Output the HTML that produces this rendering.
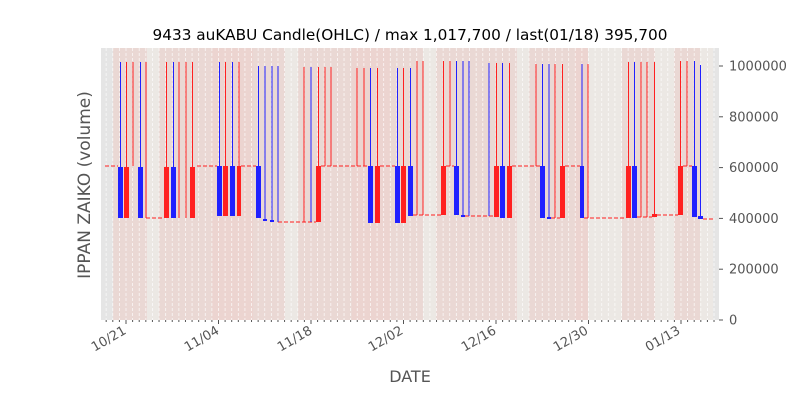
<!DOCTYPE html>
<html><head><meta charset="utf-8"><style>
html,body{margin:0;padding:0;background:#fff;}
svg{display:block;font-family:"DejaVu Sans","Liberation Sans",sans-serif;}
</style></head><body>
<svg id="s" width="800" height="400" viewBox="0 0 800 400" xmlns="http://www.w3.org/2000/svg">
<rect x="0" y="0" width="800" height="400" fill="#fff"/>
<rect x="101" y="48" width="618" height="272" fill="#e5e5e5"/>
<g id="bg"></g>
<g id="grid"></g>
<g id="data"></g>
<g id="axes" fill="#555" font-size="13"></g>
<text x="410" y="40" text-anchor="middle" font-size="15.3" fill="#000">9433 auKABU Candle(OHLC) / max 1,017,700 / last(01/18) 395,700</text>
<text x="410" y="382" text-anchor="middle" font-size="16" fill="#555">DATE</text>
<text transform="translate(90,185) rotate(-90)" text-anchor="middle" font-size="17" fill="#555">IPPAN ZAIKO (volume)</text>
</svg>
<script>
(function(){
const NS="http://www.w3.org/2000/svg";
function el(p,t,a,txt){const e=document.createElementNS(NS,t);for(const k in a)e.setAttribute(k,a[k]);if(txt!==undefined)e.textContent=txt;document.getElementById(p).appendChild(e);return e;}
const P='#ead8d4',P2='#ecd4d0',L='#ece8e4';
[[113,147,P],[147,159,L],[159,212,P],[212,253,P2],[253,285,P],[285,298,L],[298,352,P],[352,390,P2],[390,423,P],[423,436,L],[436,517,P],[517,529,L],[529,575,P],[575,588,P2],[588,622,L],[622,655,P],[655,674,L],[674,700,P],[700,713,L]].forEach(b=>el('bg','rect',{x:b[0],y:48,width:b[1]-b[0],height:272,fill:b[2]}));
for(let d=-3;d<=89;d++){const x=126+6.607*d;el('grid','line',{x1:x,x2:x,y1:48,y2:320,stroke:'#fff','stroke-dasharray':'3,2','stroke-width':0.8,opacity:0.8});
el('axes','line',{x1:x,x2:x,y1:320,y2:(d%14==0)?324:322,stroke:'#555','stroke-width':1});}
const R='#ff2020',B='#2020ff';
function topY(x){if(x<250)return 62;if(x<300)return 66;if(x<345)return 67;if(x<415)return 68;if(x<470)return 61;if(x<530)return 63;if(x<600)return 64;if(x<670)return 62;if(x<695)return 61;return 65;}
const dash=[[105,118,166],[146,164,218],[197,217,166],[241,256,166],[278,316,222],[321,368,166],[380,395,166],[413,441,215],[446,454,166],[465,494,216],[512,540,166],[551,560,218],[565,580,166],[584,626,218],[637,652,217],[657,678,215],[683,692,166],[703,715,219]];
dash.forEach(d=>el('data','line',{x1:d[0],x2:d[1],y1:d[2],y2:d[2],stroke:R,'stroke-dasharray':'4,2','stroke-width':1}));
const c=[['b',118,123,167,218],['r',124,129,167,218],['b',138,143,167,218],['r',164,169,167,218],['b',171,176,167,218],['r',190,195,167,218],['b',217,222,166,216],['r',223,228,166,216],['b',230,235,166,216],['r',237,241,166,216],['b',256,261,166,218],['b',263,267,219,221],['b',270,274,220,222],['r',316,321,166,222],['b',368,373,166,223],['r',375,380,166,223],['b',395,400,166,223],['r',401,406,166,223],['b',408,413,166,216],['r',441,446,166,215],['b',454,459,166,215],['b',461,465,215,217],['r',494,499,166,217],['b',500,505,166,218],['r',507,512,166,218],['b',540,545,166,218],['b',547,551,217,219],['r',560,565,166,218],['b',580,584,166,218],['r',626,631,166,218],['b',632,637,166,218],['r',652,657,214,217],['r',678,683,166,215],['b',692,697,166,217],['b',698,703,216,219]];
c.forEach(k=>{const col=k[0]=='r'?R:B;const cx=(k[1]+k[2])/2;el('data','line',{x1:cx,x2:cx,y1:topY(cx),y2:k[3],stroke:col,'stroke-width':1});el('data','rect',{x:k[1],y:k[3],width:k[2]-k[1],height:Math.max(2,k[4]-k[3]),fill:col});});
const w=[['r',133,166],['r',146,218],['r',179,218],['r',186,218],['b',278,222],['r',304,222],['b',311,222],['r',325,166],['r',331,166],['r',357,166],['r',364,166],['r',417,215],['r',423,215],['r',450,166],['b',469,216],['b',489,216],['r',536,166],['r',555,218],['r',588,218],['r',641,217],['r',647,217],['r',687,166]];
w.forEach(k=>el('data','line',{x1:k[1],x2:k[1],y1:topY(k[1]),y2:k[2],stroke:k[0]=='r'?R:B,'stroke-width':1}));
[[0,'0'],[200000,'200000'],[400000,'400000'],[600000,'600000'],[800000,'800000'],[1000000,'1000000']].forEach(t=>{const y=320-t[0]*254/1e6;el('axes','line',{x1:719,x2:723,y1:y,y2:y,stroke:'#555'});el('axes','text',{x:729,y:y+4.5},t[1]);});
[['10/21',126],['11/04',219],['11/18',312],['12/02',403],['12/16',496],['12/30',588],['01/13',680]].forEach(t=>{el('axes','text',{transform:'translate('+(t[1]+1)+',333) rotate(-30)','text-anchor':'end'},t[0]);});
})();
</script>
</body></html>
